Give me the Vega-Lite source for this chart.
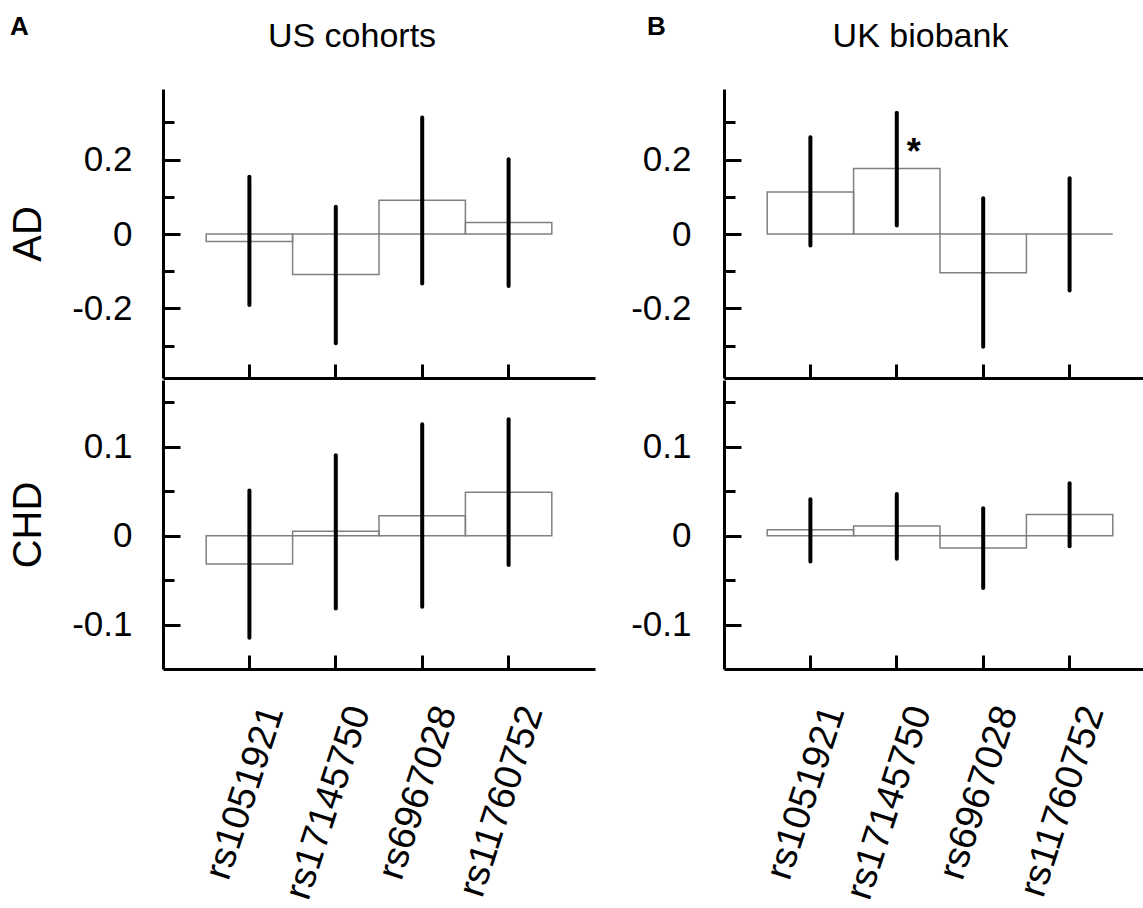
{
  "$schema": "https://vega.github.io/schema/vega-lite/v6.json",
  "background": "white",
  "padding": {"left": 8, "top": 14, "right": 0, "bottom": 0},
  "config": {
    "view": {"stroke": null},
    "font": "Liberation Sans",
    "axis": {
      "domainColor": "black", "domainWidth": 3, "tickColor": "black", "tickWidth": 3,
      "labelColor": "black", "titleColor": "black", "grid": false,
      "labelFont": "Liberation Sans", "titleFont": "Liberation Sans", "titleFontWeight": "normal"
    },
    "title": {"color": "black", "font": "Liberation Sans"}
  },
  "datasets": {
    "snps": [
      {"cohort": "US", "trait": "AD", "snp": "rs1051921", "est": -0.02, "lo": -0.191, "hi": 0.154, "sig": ""},
      {"cohort": "US", "trait": "AD", "snp": "rs17145750", "est": -0.109, "lo": -0.294, "hi": 0.073, "sig": ""},
      {"cohort": "US", "trait": "AD", "snp": "rs6967028", "est": 0.091, "lo": -0.133, "hi": 0.313, "sig": ""},
      {"cohort": "US", "trait": "AD", "snp": "rs11760752", "est": 0.031, "lo": -0.14, "hi": 0.201, "sig": ""},
      {"cohort": "UK", "trait": "AD", "snp": "rs1051921", "est": 0.113, "lo": -0.031, "hi": 0.26, "sig": ""},
      {"cohort": "UK", "trait": "AD", "snp": "rs17145750", "est": 0.176, "lo": 0.023, "hi": 0.326, "sig": "*"},
      {"cohort": "UK", "trait": "AD", "snp": "rs6967028", "est": -0.104, "lo": -0.303, "hi": 0.096, "sig": ""},
      {"cohort": "UK", "trait": "AD", "snp": "rs11760752", "est": 0.0, "lo": -0.152, "hi": 0.15, "sig": ""},
      {"cohort": "US", "trait": "CHD", "snp": "rs1051921", "est": -0.032, "lo": -0.115, "hi": 0.051, "sig": ""},
      {"cohort": "US", "trait": "CHD", "snp": "rs17145750", "est": 0.005, "lo": -0.082, "hi": 0.0905, "sig": ""},
      {"cohort": "US", "trait": "CHD", "snp": "rs6967028", "est": 0.0225, "lo": -0.08, "hi": 0.1255, "sig": ""},
      {"cohort": "US", "trait": "CHD", "snp": "rs11760752", "est": 0.049, "lo": -0.033, "hi": 0.131, "sig": ""},
      {"cohort": "UK", "trait": "CHD", "snp": "rs1051921", "est": 0.0068, "lo": -0.029, "hi": 0.041, "sig": ""},
      {"cohort": "UK", "trait": "CHD", "snp": "rs17145750", "est": 0.011, "lo": -0.026, "hi": 0.047, "sig": ""},
      {"cohort": "UK", "trait": "CHD", "snp": "rs6967028", "est": -0.014, "lo": -0.059, "hi": 0.031, "sig": ""},
      {"cohort": "UK", "trait": "CHD", "snp": "rs11760752", "est": 0.024, "lo": -0.012, "hi": 0.059, "sig": ""}
    ]
  },
  "spacing": 35,
  "hconcat": [
    {
      "title": {"text": "A", "fontSize": 26, "fontWeight": "bold", "anchor": "start", "frame": "group", "dx": -153, "offset": -41, "baseline": "alphabetic"},
      "spacing": 0,
      "vconcat": [
        {
          "title": {"text": "US cohorts", "fontSize": 34, "fontWeight": "normal", "anchor": "middle", "frame": "group", "dx": -27, "offset": 8, "baseline": "alphabetic"},
          "width": 432, "height": 289,
          "data": {"name": "snps"},
          "transform": [{"filter": "datum.cohort == 'US' && datum.trait == 'AD'"}],
          "encoding": {
            "x": {"field": "snp", "type": "nominal", "sort": null,
              "scale": {"paddingInner": 0, "paddingOuter": 0.5},
              "axis": {"title": null, "labels": false, "tickSize": -14}}
          },
          "layer": [
            {"mark": {"type": "bar", "filled": false, "stroke": "#808080", "strokeWidth": 1.5},
             "encoding": {
               "y": {"field": "est", "type": "quantitative",
                 "scale": {"domain": [-0.3871, 0.3898], "nice": false, "zero": false},
                 "axis": {"title": "AD", "titleFontSize": 40, "titlePadding": 23,
                   "values": [-0.3, -0.2, -0.1, 0, 0.1, 0.2, 0.3],
                   "labelExpr": "datum.value == 0.2 ? '0.2' : datum.value == 0 ? '0' : datum.value == -0.2 ? '-0.2' : ''",
                   "labelFontSize": 35, "labelPadding": 48,
                   "tickSize": {"condition": {"test": "datum.value == 0.2 || datum.value == 0 || datum.value == -0.2", "value": -17}, "value": -11}}},
               "y2": {"datum": 0}}},
            {"mark": {"type": "rule", "strokeWidth": 4, "strokeCap": "round", "color": "black"},
             "encoding": {"y": {"field": "lo", "type": "quantitative"}, "y2": {"field": "hi"}}}
          ]
        },
        {
          "width": 432, "height": 289,
          "data": {"name": "snps"},
          "transform": [{"filter": "datum.cohort == 'US' && datum.trait == 'CHD'"}],
          "encoding": {
            "x": {"field": "snp", "type": "nominal", "sort": null,
              "scale": {"paddingInner": 0, "paddingOuter": 0.5},
              "axis": {"title": null, "tickSize": -14, "labelAngle": -72, "labelAlign": "right", "labelBaseline": "middle",
                "labelFontSize": 38, "labelPadding": 52, "labelOffset": 24, "labelLimit": 0}}
          },
          "layer": [
            {"mark": {"type": "bar", "filled": false, "stroke": "#808080", "strokeWidth": 1.5},
             "encoding": {
               "y": {"field": "est", "type": "quantitative",
                 "scale": {"domain": [-0.1501, 0.1753], "nice": false, "zero": false},
                 "axis": {"title": "CHD", "titleFontSize": 40, "titlePadding": 23,
                   "values": [-0.1, -0.05, 0, 0.05, 0.1, 0.15],
                   "labelExpr": "datum.value == 0.1 ? '0.1' : datum.value == 0 ? '0' : datum.value == -0.1 ? '-0.1' : ''",
                   "labelFontSize": 35, "labelPadding": 48,
                   "tickSize": {"condition": {"test": "datum.value == 0.1 || datum.value == 0 || datum.value == -0.1", "value": -17}, "value": -11}}},
               "y2": {"datum": 0}}},
            {"mark": {"type": "rule", "strokeWidth": 4, "strokeCap": "round", "color": "black"},
             "encoding": {"y": {"field": "lo", "type": "quantitative"}, "y2": {"field": "hi"}}}
          ]
        }
      ]
    },
    {
      "title": {"text": "B", "fontSize": 26, "fontWeight": "bold", "anchor": "start", "frame": "group", "dx": -77, "offset": -41, "baseline": "alphabetic"},
      "spacing": 0,
      "vconcat": [
        {
          "title": {"text": "UK biobank", "fontSize": 34, "fontWeight": "normal", "anchor": "middle", "frame": "group", "dx": -14, "offset": 8, "baseline": "alphabetic"},
          "width": 421, "height": 289,
          "data": {"name": "snps"},
          "transform": [{"filter": "datum.cohort == 'UK' && datum.trait == 'AD'"}],
          "encoding": {
            "x": {"field": "snp", "type": "nominal", "sort": null,
              "scale": {"paddingInner": 0, "paddingOuter": 0.4363, "align": 0.5729},
              "axis": {"title": null, "labels": false, "tickSize": -14}}
          },
          "layer": [
            {"mark": {"type": "bar", "filled": false, "stroke": "#808080", "strokeWidth": 1.5},
             "encoding": {
               "y": {"field": "est", "type": "quantitative",
                 "scale": {"domain": [-0.3871, 0.3898], "nice": false, "zero": false},
                 "axis": {"title": null,
                   "values": [-0.3, -0.2, -0.1, 0, 0.1, 0.2, 0.3],
                   "labelExpr": "datum.value == 0.2 ? '0.2' : datum.value == 0 ? '0' : datum.value == -0.2 ? '-0.2' : ''",
                   "labelFontSize": 35, "labelPadding": 50,
                   "tickSize": {"condition": {"test": "datum.value == 0.2 || datum.value == 0 || datum.value == -0.2", "value": -17}, "value": -11}}},
               "y2": {"datum": 0}}},
            {"mark": {"type": "rule", "strokeWidth": 4, "strokeCap": "round", "color": "black"},
             "encoding": {"y": {"field": "lo", "type": "quantitative"}, "y2": {"field": "hi"}}},
            {"mark": {"type": "text", "fontSize": 36, "fontWeight": "bold", "dx": 17, "dy": -5, "baseline": "alphabetic", "align": "center", "color": "black"},
             "encoding": {"y": {"field": "est", "type": "quantitative"}, "text": {"field": "sig"}}}
          ]
        },
        {
          "width": 421, "height": 289,
          "data": {"name": "snps"},
          "transform": [{"filter": "datum.cohort == 'UK' && datum.trait == 'CHD'"}],
          "encoding": {
            "x": {"field": "snp", "type": "nominal", "sort": null,
              "scale": {"paddingInner": 0, "paddingOuter": 0.4363, "align": 0.5729},
              "axis": {"title": null, "tickSize": -14, "labelAngle": -72, "labelAlign": "right", "labelBaseline": "middle",
                "labelFontSize": 38, "labelPadding": 52, "labelOffset": 24, "labelLimit": 0}}
          },
          "layer": [
            {"mark": {"type": "bar", "filled": false, "stroke": "#808080", "strokeWidth": 1.5},
             "encoding": {
               "y": {"field": "est", "type": "quantitative",
                 "scale": {"domain": [-0.1501, 0.1753], "nice": false, "zero": false},
                 "axis": {"title": null,
                   "values": [-0.1, -0.05, 0, 0.05, 0.1, 0.15],
                   "labelExpr": "datum.value == 0.1 ? '0.1' : datum.value == 0 ? '0' : datum.value == -0.1 ? '-0.1' : ''",
                   "labelFontSize": 35, "labelPadding": 50,
                   "tickSize": {"condition": {"test": "datum.value == 0.1 || datum.value == 0 || datum.value == -0.1", "value": -17}, "value": -11}}},
               "y2": {"datum": 0}}},
            {"mark": {"type": "rule", "strokeWidth": 4, "strokeCap": "round", "color": "black"},
             "encoding": {"y": {"field": "lo", "type": "quantitative"}, "y2": {"field": "hi"}}}
          ]
        }
      ]
    }
  ]
}
